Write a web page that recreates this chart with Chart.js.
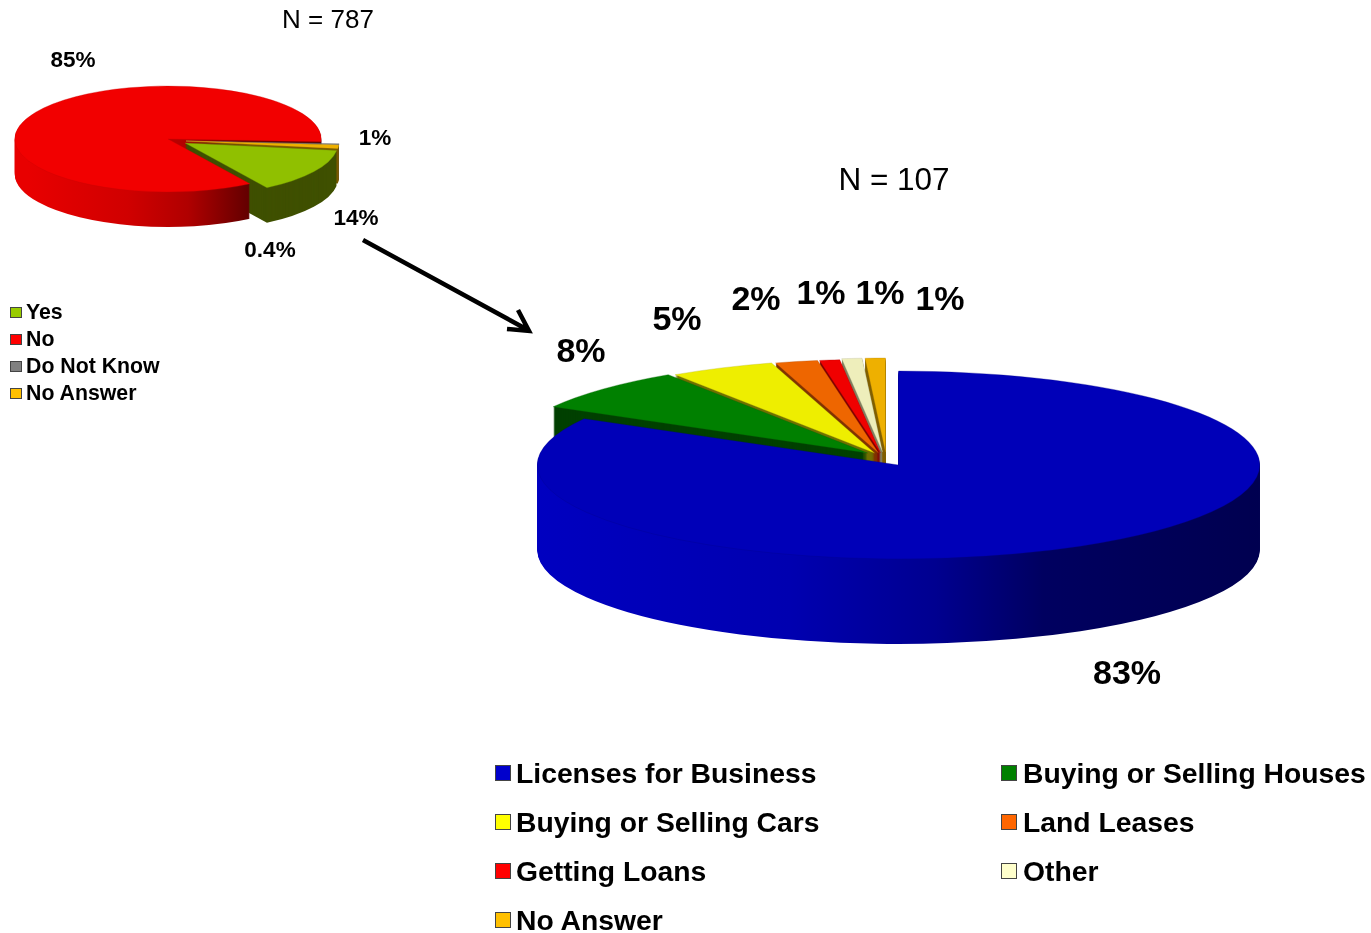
<!DOCTYPE html>
<html><head><meta charset="utf-8">
<script src="https://cdn.jsdelivr.net/npm/chart.js@4"></script>
<style>
html,body{margin:0;padding:0;background:#fff;width:1371px;height:933px;overflow:hidden;font-family:"Liberation Sans",Arial,sans-serif;color:#000}
canvas{position:absolute}
.t{position:absolute;white-space:nowrap;line-height:1;transform:translate(-50%,-50%)}
.l{position:absolute;white-space:nowrap;line-height:1;font-weight:bold;transform:translateY(-50%)}
.s{position:absolute;box-sizing:border-box;border:1.5px solid #444}
svg{position:absolute;left:0;top:0}
</style></head><body>
<canvas id="top"></canvas><canvas id="big"></canvas>
<svg width="1371" height="933"><path d="M363 240 L528 330 M507 329 L529 331 L518 310" fill="none" stroke="#000" stroke-width="4.5"/></svg>
<script>
const topCategories=["Yes","No","Do Not Know","No Answer"];
const topValues=[13.8,84.8,0.4,1.0];
const topLabels=["14%","85%","0.4%","1%"];
const topLegendColors=["#99cc00","#ff0000","#808080","#ffc000"];
const topFaceColors=["#90c000","#f20000","#777777","#eeb000"];
const topRimColors=["#6a8a00","#c80000","#666666","#eeb000"];
const bigCategories=["Licenses for Business","Buying or Selling Houses","Buying or Selling Cars","Land Leases","Getting Loans","Other","No Answer"];
const bigValues=[83.2,7.5,4.7,1.9,0.9,0.9,0.9];
const bigLabels=["83%","8%","5%","2%","1%","1%","1%"];
const bigLegendColors=["#0000cc","#008000","#ffff00","#ff6600","#ff0000","#ffffcc","#ffc000"];
const bigFaceColors=["#0000b8","#008000","#eeee00","#ee6600","#f00000","#eeeebb","#eeb000"];
const bigRimColors=["#00008c","#006000","#b0b000","#b04a00","#b00000","#b0b08a","#b08200"];

const pie3d={id:'pie3d',
 beforeDatasetsDraw(chart,args,o){
  const ctx=chart.ctx, arcs=chart.getDatasetMeta(0).data;
  const W=chart.width;
  const paint=(dy,styler)=>{
   arcs.forEach((a,i)=>{
    const saved=a.options, sh=o.shift[i];
    a.options=Object.assign({},saved,styler(i));
    ctx.save();
    ctx.translate(sh[0],o.cy+dy+sh[1]);
    ctx.scale(1,o.k);
    ctx.translate(0,-a.y);
    a.draw(ctx);
    ctx.restore();
    a.options=saved;
   });
  };
  const walls=o.walls.map(w=>{
   if(typeof w==='string')return w;
   const g=ctx.createLinearGradient(0,0,W,0);
   w.forEach(s=>g.addColorStop(s[0],s[1]));
   return g;
  });
  for(let d=o.depth;d>=1;d--){
   paint(d,i=>({backgroundColor:walls[i],borderWidth:0,borderColor:walls[i]}));
  }
  paint(0,i=>({}));
  return false;
 }
};
function make(id,left,top,values,labels,faces,rot,opt,border){
 const c=document.getElementById(id);
 c.style.left=left+'px';c.style.top=top+'px';
 return new Chart(c.getContext('2d'),{type:'pie',
  data:{labels,datasets:[{data:values,backgroundColor:faces,borderWidth:0.5,borderColor:border}]},
  options:{responsive:false,animation:false,rotation:rot,layout:{padding:0},
   plugins:{legend:{display:false},tooltip:{enabled:false},pie3d:opt}},
  plugins:[pie3d]});
}
function size(id,w,h){const c=document.getElementById(id);c.width=w;c.height=h;}
size('top',400,307);size('big',723,723);
make('top',-32,0,topValues,topCategories,topFaceColors,98,{
 cy:139,k:0.346,depth:35,
 shift:[[17,4],[0,0],[18,2],[18,2]],
 walls:['#3f5000',[[0,'#e80000'],[0.15,'#e80000'],[0.4,'#d00000'],[0.55,'#b00000'],[0.7,'#640000'],[1,'#500000']],'#444444','#7a5a00']
},topRimColors);
make('big',536.5,207,bigValues,bigCategories,bigFaceColors,0,{
 cy:258,k:0.26,depth:85,
 shift:[[0,0],[-31,-12],[-24,-12],[-20,-12],[-18,-12],[-16,-13],[-13,-13]],
 walls:[[[0,'#0000c0'],[0.35,'#0000b0'],[0.55,'#000090'],[0.7,'#000060'],[1,'#000050']],'#004000','#707000','#803300','#800000','#807f60','#806000']
},bigRimColors);

const texts=[
 ["N = 787",328,19,26,false],["N = 107",894,180,31.5,false],
 [topLabels[1],73,60,22.5,true],[topLabels[3],375,138,22.5,true],[topLabels[0],356,218,22.5,true],[topLabels[2],270,250,22.5,true],
 [bigLabels[1],581,350,34,true],[bigLabels[2],677,318,34,true],[bigLabels[3],756,298,34,true],[bigLabels[4],821,292,34,true],[bigLabels[5],880,292,34,true],[bigLabels[6],940,298,34,true],[bigLabels[0],1127,672,34,true]
];
texts.forEach(t=>{const d=document.createElement('div');d.className='t';d.textContent=t[0];
 d.style.cssText=`left:${t[1]}px;top:${t[2]}px;font-size:${t[3]}px;font-weight:${t[4]?'bold':'normal'}`;document.body.appendChild(d);});
function legendItem(name,color,sx,sz,tx,y,fs,dy){
 const s=document.createElement('div');s.className='s';s.style.cssText=`left:${sx}px;top:${y-sz/2}px;width:${sz}px;height:${sz}px;background:${color}`;document.body.appendChild(s);
 const l=document.createElement('div');l.className='l';l.textContent=name;l.style.cssText=`left:${tx}px;top:${y+dy}px;font-size:${fs}px`;document.body.appendChild(l);
}
topCategories.forEach((n,i)=>legendItem(n,topLegendColors[i],10,11.5,26,312.5+27*i,21.3,0));
bigCategories.forEach((n,i)=>{const col=i%2,row=Math.floor(i/2);
 legendItem(n,bigLegendColors[i],col?1001:495,15.5,col?1023:516,773+49*row,28.3,0);});
</script></body></html>
